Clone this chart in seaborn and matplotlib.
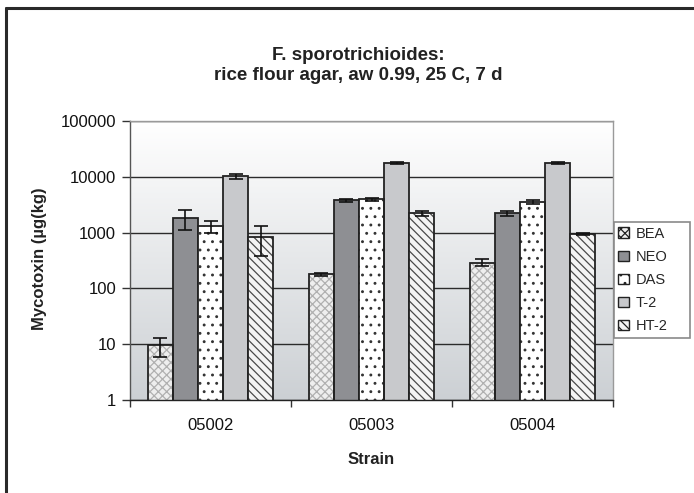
import numpy as np
import pandas as pd
import matplotlib
matplotlib.use("Agg")
import matplotlib.pyplot as plt
import seaborn as sns
from matplotlib.patches import Rectangle, Patch
from matplotlib.lines import Line2D
from matplotlib.colors import LinearSegmentedColormap
from matplotlib.ticker import FixedLocator, NullLocator

# ---- data -------------------------------------------------------------
strains = ["05002", "05003", "05004"]
toxins = ["BEA", "NEO", "DAS", "T-2", "HT-2"]

bea_mean = [9.5, 180, 290]
neo_mean = [1850, 3800, 2200]
das_mean = [1300, 3950, 3550]
t2_mean = [10200, 17500, 17500]
ht2_mean = [850, 2200, 950]

bea_err = [3.5, 12, 40]
neo_err = [720, 250, 200]
das_err = [320, 300, 250]
t2_err = [1100, 700, 600]
ht2_err = [470, 200, 50]

y_ticks = [1, 10, 100, 1000, 10000, 100000]
y_ticklabels = ["1", "10", "100", "1000", "10000", "100000"]

means = [bea_mean, neo_mean, das_mean, t2_mean, ht2_mean]
errs = [bea_err, neo_err, das_err, t2_err, ht2_err]

df = pd.DataFrame(
    [(s, t, means[i][j], errs[i][j])
     for i, t in enumerate(toxins) for j, s in enumerate(strains)],
    columns=["Strain", "Toxin", "value", "err"],
)

# ---- style ------------------------------------------------------------
sns.set_theme(style="white")
plt.rcParams["font.family"] = ["Liberation Sans", "DejaVu Sans"]
plt.rcParams["hatch.linewidth"] = 0.9

# fill, hatch, hatch colour per toxin
styles = {
    "BEA": ("#eeeeee", "xxxx", "#b0b0b0"),
    "NEO": ("#8e8f93", None, None),
    "DAS": ("#ffffff", "..", "#333333"),
    "T-2": ("#c8c9cc", None, None),
    "HT-2": ("#f4f4f4", "\\\\\\\\", "#4a4a4a"),
}

W, H = 694, 493
fig = plt.figure(figsize=(W / 100, H / 100), dpi=100)
fig.patch.set_facecolor("white")

# outer chart frame (left and top edges)
fig.add_artist(Line2D([6 / W, 6 / W], [0, 1 - 8 / H], transform=fig.transFigure,
                      color="#2a2a2a", lw=2.2))
fig.add_artist(Line2D([6 / W, 1], [1 - 8 / H, 1 - 8 / H], transform=fig.transFigure,
                      color="#2a2a2a", lw=2.2))

ax = fig.add_axes([130 / W, 1 - 400 / H, 483 / W, 279 / H])
ax.set_yscale("log")

# plot-area gradient
cmap = LinearSegmentedColormap.from_list("bg", ["#ffffff", "#ccd0d4"])
ax.imshow(np.linspace(0, 1, 256).reshape(-1, 1), cmap=cmap, aspect="auto",
          extent=[0, 1, 0, 1], transform=ax.transAxes, zorder=0, origin="upper")

sns.barplot(data=df, x="Strain", y="value", hue="Toxin", order=strains,
            hue_order=toxins, errorbar=None, width=0.78, gap=0, saturation=1,
            palette=[styles[t][0] for t in toxins], legend=False, ax=ax,
            zorder=3)

for cont, tox in zip(ax.containers, toxins):
    face, hatch, hcol = styles[tox]
    for bar in cont:
        bar.set_facecolor(face)
        bar.set_zorder(3)
        if hatch:
            bar.set_hatch(hatch)
            bar.set_edgecolor(hcol)
            bar.set_linewidth(0)
            ax.add_patch(Rectangle(bar.get_xy(), bar.get_width(), bar.get_height(),
                                   fill=False, edgecolor="#222222", lw=1.3, zorder=4))
        else:
            bar.set_edgecolor("#222222")
            bar.set_linewidth(1.3)
    xs = [b.get_x() + b.get_width() / 2 for b in cont]
    sub = df[df["Toxin"] == tox]
    ax.errorbar(xs, sub["value"].values, yerr=sub["err"].values, fmt="none",
                ecolor="#111111", elinewidth=1.2, capsize=5, capthick=1.2, zorder=5)

ax.set_ylim(1, 100000)
ax.set_xlim(-0.5, 2.5)

# axes decoration
ax.yaxis.set_major_locator(FixedLocator(y_ticks))
ax.yaxis.set_minor_locator(NullLocator())
ax.set_yticklabels(y_ticklabels)
ax.yaxis.grid(True, color="#2b2b2b", lw=1.0)
ax.set_axisbelow(True)
ax.tick_params(axis="y", which="major", direction="out", length=6, width=1,
               color="#333333", left=True, pad=4, labelsize=12, labelcolor="#111111")
ax.set_xticks(range(len(strains)))
ax.set_xticklabels(strains)
ax.set_xticks([-0.5, 0.5, 1.5, 2.5], minor=True)
ax.tick_params(axis="x", which="major", length=0, pad=13, labelsize=12,
               labelcolor="#111111")
ax.tick_params(axis="x", which="minor", direction="out", length=5, width=1,
               color="#333333", bottom=True)
ax.set_xlabel("")
ax.set_ylabel("")

for side, col in [("left", "#555555"), ("bottom", "#222222"),
                  ("top", "#9a9a9a"), ("right", "#9a9a9a")]:
    ax.spines[side].set_visible(True)
    ax.spines[side].set_color(col)
    ax.spines[side].set_linewidth(1.0)
ax.spines["bottom"].set_zorder(6)

# titles and axis labels
fig.text(358 / W, 1 - 55 / H, "F. sporotrichioides:", ha="center", va="center",
         fontsize=13.5, fontweight="bold", color="#222222")
fig.text(358 / W, 1 - 76 / H, "rice flour agar, aw 0.99, 25 C, 7 d", ha="center",
         va="center", fontsize=13.5, fontweight="bold", color="#222222")
fig.text(40 / W, 1 - 259 / H, "Mycotoxin (µg(kg)", rotation=90, ha="center",
         va="center", fontsize=12, fontweight="bold", color="#222222")
fig.text(371 / W, 1 - 460 / H, "Strain", ha="center", va="center",
         fontsize=12, fontweight="bold", color="#222222")

# legend with a fixed-size frame
fig.add_artist(Rectangle((614 / W, 1 - 338 / H), 76 / W, 116 / H,
                         transform=fig.transFigure, fill=True, facecolor="white",
                         edgecolor="#8a8a8a", lw=1.2, zorder=1))
handles = []
for tox in toxins:
    face, hatch, hcol = styles[tox]
    handles.append(Patch(facecolor=face, edgecolor="#222222", hatch=hatch, lw=1.0))
leg = fig.legend(handles, toxins, loc="center left",
                 bbox_to_anchor=(618 / W, 1 - 280 / H), frameon=False,
                 fontsize=10.5, handlelength=0.75, handleheight=0.75,
                 handletextpad=0.45, labelspacing=0.62, borderpad=0,
                 borderaxespad=0)
leg.set_zorder(2)

fig.savefig("out.png", dpi=100, facecolor="white")
